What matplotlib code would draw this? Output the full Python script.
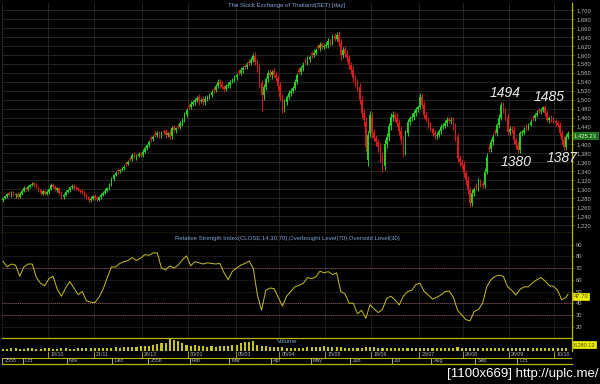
import numpy as np
import matplotlib
matplotlib.use("Agg")
import matplotlib.pyplot as plt
from matplotlib.ticker import FuncFormatter

# SET index, daily candles Sep 2012 - Oct 2013
opens = [1276, 1281, 1285, 1291, 1286, 1292, 1286, 1290, 1283, 1290,
         1297, 1303, 1300, 1306, 1310, 1313, 1310, 1305, 1298, 1290,
         1296, 1289, 1294, 1300, 1310, 1306, 1299, 1302, 1292, 1282,
         1288, 1294, 1298, 1304, 1308, 1303, 1303, 1298, 1297, 1294,
         1287, 1283, 1275, 1279, 1285, 1281, 1277, 1283, 1288, 1292,
         1297, 1302, 1310, 1322, 1332, 1343, 1340, 1343, 1347, 1358,
         1356, 1370, 1368, 1377, 1371, 1375, 1379, 1376, 1384, 1392,
         1399, 1414, 1411, 1424, 1421, 1426, 1419, 1431, 1429, 1421,
         1426, 1418, 1438, 1432, 1442, 1439, 1447, 1455, 1466, 1486,
         1484, 1490, 1495, 1500, 1505, 1496, 1501, 1494, 1502, 1506,
         1510, 1524, 1521, 1530, 1540, 1534, 1528, 1524, 1530, 1533,
         1540, 1544, 1550, 1563, 1560, 1566, 1576, 1573, 1585, 1582,
         1588, 1598, 1585, 1570, 1537, 1510, 1528, 1545, 1560, 1555,
         1563, 1556, 1548, 1530, 1506, 1480, 1495, 1506, 1515, 1520,
         1526, 1540, 1565, 1562, 1570, 1587, 1584, 1590, 1603, 1600,
         1605, 1619, 1616, 1623, 1618, 1620, 1622, 1631, 1626, 1641,
         1636, 1645, 1626, 1600, 1612, 1602, 1593, 1577, 1565, 1548,
         1538, 1528, 1499, 1470, 1450, 1365, 1425, 1462, 1425, 1415,
         1405, 1394, 1370, 1352, 1400, 1417, 1440, 1461, 1466, 1460,
         1448, 1430, 1410, 1385, 1425, 1450, 1458, 1462, 1470, 1478,
         1484, 1505, 1488, 1466, 1455, 1443, 1434, 1425, 1418, 1421,
         1430, 1439, 1442, 1448, 1456, 1452, 1455, 1440, 1417, 1370,
         1360, 1354, 1336, 1320, 1298, 1270, 1291, 1308, 1305, 1316,
         1312, 1310, 1339, 1393, 1390, 1405, 1428, 1425, 1443, 1460,
         1488, 1475, 1461, 1428, 1435, 1432, 1410, 1399, 1388, 1425,
         1428, 1441, 1438, 1444, 1461, 1458, 1466, 1476, 1474, 1477,
         1484, 1470, 1455, 1460, 1455, 1452, 1448, 1443, 1425, 1410,
         1394, 1417]

closes = [1280, 1284, 1290, 1286, 1292, 1287, 1289, 1283, 1290, 1297,
          1302, 1300, 1306, 1310, 1312, 1310, 1305, 1298, 1291, 1295,
          1290, 1294, 1300, 1309, 1306, 1300, 1302, 1292, 1283, 1288,
          1294, 1298, 1304, 1307, 1303, 1302, 1298, 1296, 1294, 1287,
          1282, 1276, 1279, 1284, 1280, 1278, 1283, 1288, 1292, 1297,
          1302, 1310, 1322, 1332, 1336, 1340, 1343, 1346, 1350, 1356,
          1361, 1368, 1376, 1372, 1375, 1378, 1376, 1384, 1392, 1399,
          1405, 1411, 1417, 1421, 1425, 1420, 1424, 1428, 1422, 1425,
          1417, 1437, 1432, 1436, 1439, 1447, 1455, 1466, 1477, 1483,
          1490, 1495, 1500, 1504, 1496, 1500, 1494, 1502, 1506, 1510,
          1516, 1521, 1530, 1539, 1534, 1528, 1524, 1530, 1533, 1540,
          1544, 1550, 1555, 1560, 1566, 1570, 1573, 1577, 1582, 1588,
          1597, 1585, 1570, 1537, 1510, 1528, 1545, 1559, 1555, 1562,
          1556, 1548, 1530, 1506, 1480, 1495, 1506, 1515, 1520, 1526,
          1540, 1555, 1562, 1570, 1578, 1584, 1590, 1595, 1600, 1605,
          1611, 1616, 1622, 1618, 1620, 1622, 1630, 1626, 1640, 1636,
          1644, 1626, 1600, 1611, 1602, 1593, 1577, 1565, 1548, 1538,
          1528, 1499, 1470, 1454, 1395, 1420, 1466, 1425, 1415, 1405,
          1394, 1370, 1350, 1400, 1417, 1440, 1461, 1466, 1460, 1448,
          1430, 1410, 1383, 1425, 1450, 1458, 1462, 1470, 1478, 1484,
          1505, 1488, 1466, 1455, 1443, 1434, 1425, 1420, 1421, 1430,
          1439, 1442, 1448, 1455, 1452, 1455, 1440, 1417, 1370, 1360,
          1354, 1336, 1320, 1298, 1269, 1291, 1300, 1305, 1316, 1312,
          1310, 1339, 1372, 1390, 1405, 1417, 1425, 1443, 1460, 1488,
          1475, 1461, 1428, 1435, 1432, 1410, 1399, 1388, 1425, 1428,
          1432, 1438, 1444, 1450, 1458, 1466, 1470, 1474, 1477, 1484,
          1470, 1455, 1460, 1455, 1452, 1448, 1443, 1425, 1410, 1394,
          1417, 1425.23]

# wick length above / below the body
wick_hi = [3, 4, 2, 5, 3, 4, 2, 3, 4, 3, 5, 3, 4, 2, 4, 3, 5, 3, 2, 4,
           3, 5, 2, 4, 3, 4, 3, 2, 5, 3, 4, 3, 2, 4, 3, 5, 2, 3, 4, 3,
           4, 2, 5, 3, 4, 3, 2, 4, 3, 5, 3, 4, 6, 3, 4, 5, 3, 4, 3, 5,
           4, 3, 5, 6, 3, 4, 3, 5, 4, 3, 5, 4, 3, 6, 4, 3, 5, 4, 6, 3,
           7, 4, 5, 3, 4, 5, 4, 6, 5, 4, 6, 5, 4, 5, 7, 4, 6, 5, 4, 5,
           6, 5, 4, 6, 5, 7, 4, 5, 6, 4, 5, 6, 4, 5, 6, 4, 5, 6, 5, 7,
           6, 8, 5, 9, 6, 7, 5, 6, 8, 5, 7, 6, 8, 9, 7, 6, 5, 7, 6, 5,
           6, 5, 7, 6, 5, 6, 7, 5, 6, 7, 5, 6, 7, 6, 5, 6, 7, 5, 6, 7,
           6, 8, 9, 6, 7, 8, 6, 7, 9, 8, 7, 9, 10, 8, 12, 9, 8, 10, 9, 7,
           8, 9, 10, 11, 8, 7, 9, 8, 7, 9, 8, 10, 9, 8, 7, 6, 8, 7, 6, 5,
           10, 7, 8, 6, 7, 6, 5, 7, 6, 5, 6, 5, 7, 6, 5, 6, 7, 8, 9, 7,
           8, 9, 7, 10, 8, 9, 6, 7, 8, 6, 7, 8, 9, 7, 6, 7, 6, 5, 7, 6,
           7, 6, 8, 7, 6, 8, 7, 9, 6, 5, 6, 5, 4, 6, 5, 4, 6, 5, 4, 2,
           5, 6, 4, 5, 6, 4, 5, 6, 7, 8, 6, 5]
wick_lo = [4, 3, 5, 2, 4, 3, 5, 4, 3, 4, 3, 5, 4, 3, 2, 4, 3, 5, 4, 3,
           4, 3, 5, 2, 4, 3, 6, 4, 5, 3, 4, 3, 5, 3, 4, 2, 3, 4, 5, 4,
           3, 5, 4, 3, 5, 4, 3, 5, 4, 3, 4, 3, 2, 4, 3, 5, 4, 3, 5, 4,
           3, 5, 4, 3, 6, 4, 5, 3, 4, 5, 4, 6, 3, 5, 4, 6, 4, 5, 7, 4,
           6, 5, 4, 7, 5, 4, 6, 5, 4, 6, 5, 4, 6, 5, 7, 4, 5, 6, 4, 5,
           5, 6, 4, 5, 7, 5, 6, 4, 5, 6, 4, 5, 6, 5, 4, 6, 5, 4, 6, 5,
           5, 7, 9, 8, 35, 10, 7, 6, 5, 8, 6, 7, 9, 8, 10, 7, 6, 5, 6, 5,
           5, 6, 5, 6, 7, 5, 6, 5, 7, 6, 5, 6, 7, 5, 6, 5, 7, 6, 5, 6,
           6, 7, 12, 8, 7, 9, 8, 7, 9, 10, 8, 9, 10, 12, 10, 13, 9, 10, 8, 9,
           10, 9, 12, 10, 8, 9, 7, 8, 9, 7, 10, 9, 12, 8, 7, 6, 5, 7, 6, 5,
           6, 7, 8, 6, 7, 5, 6, 7, 6, 5, 6, 5, 6, 7, 5, 6, 8, 9, 10, 8,
           9, 8, 10, 9, 9, 8, 7, 6, 8, 7, 8, 7, 6, 8, 7, 6, 5, 7, 6, 5,
           6, 7, 8, 6, 7, 8, 9, 8, 7, 6, 5, 6, 5, 4, 6, 5, 4, 5, 6, 5,
           6, 5, 7, 6, 5, 6, 5, 7, 8, 7, 6, 5]

# RSI(14), read every second session (last one is the final session)
rsi = [75.8, 71, 73.5, 72.5, 63, 71, 73.5, 73.5, 62, 57,
       55, 61, 63, 52, 46, 53, 58.5, 53, 47.3, 50,
       42, 41, 40.5, 45, 52, 62, 71, 71, 74, 75.5,
       76.5, 79, 76.5, 78.6, 81.5, 81, 83, 83, 70, 68.5,
       72, 70, 72.5, 77, 80.5, 72, 75.5, 74.6, 73.5, 74.5,
       74, 73.5, 74, 66, 60, 67.3, 70, 72.5, 74, 76,
       70, 47, 34, 51, 53, 52.5, 45, 37.5, 46, 50,
       54, 55.3, 57, 62, 61, 62.5, 67.3, 66, 67, 64.5,
       66, 50, 48, 40, 40, 31, 34, 27, 38.8, 35,
       32, 35, 44, 46, 43, 38.5, 46, 50, 51, 56,
       57, 50, 47, 43.5, 45, 47, 50, 50.5, 45, 34,
       30, 26, 25, 33, 34.5, 40, 54, 60, 63, 64,
       63, 54, 51, 47, 52, 54, 54, 57.5, 60, 62,
       59, 55, 54.5, 51, 43, 45, 47.7]

# volume, every second session
volume = [9000, 8500, 10000, 9500, 8800, 9200, 10500, 9800, 9000, 8700,
          9500, 10200, 9000, 8800, 9600, 10400, 9200, 8800, 9700, 10000,
          9400, 11000, 10200, 9600, 10800, 12000, 11500, 13000, 12500, 14000,
          15000, 14500, 16000, 18000, 20000, 17500, 22000, 26000, 30000, 28000,
          45000, 40000, 36000, 30000, 24000, 20000, 21000, 18000, 17000, 16000,
          17000, 16500, 18000, 17000, 19000, 21000, 24000, 28000, 32000, 34000,
          38000, 22000, 18000, 17000, 16000, 15000, 14000, 13000, 12500, 12000,
          11500, 11000, 12000, 13500, 14000, 13000, 14500, 17000, 15000, 14000,
          13000, 14000, 12000, 11000, 10500, 11000, 12000, 14000, 15000, 13000,
          12000, 11500, 12500, 11000, 10000, 10500, 11500, 12000, 11000, 10500,
          11000, 10000, 12000, 10500, 9500, 10000, 11000, 10500, 12500, 13000,
          12000, 11000, 10500, 11000, 10000, 9500, 10500, 11000, 10000, 12000,
          11000, 10500, 10000, 11500, 10000, 9500, 10500, 11000, 10000, 9800,
          10500, 10000, 9500, 10200, 9800, 9600]

# date axis: session index where each label starts
top_ticks = [22, 44, 67, 89, 112, 133, 155, 177, 200, 221, 243, 265]
top_labels = ['18/10', '21/11', '26/12', '30/01', '05/03', '05/04',
              '15/05', '18/06', '23/07', '26/08', '26/09', '10/10']
month_ticks = [0, 10, 31, 53, 70, 90, 109, 129, 148, 167, 187, 206, 227, 247]
month_labels = ['2555', 'Oct', 'Nov', 'Dec', '2556', 'Feb', 'Mar', 'Apr',
                'May', 'Jun', 'Jul', 'Aug', 'Sep', 'Oct']

# marked swing points: text, session, price position
marks = [('1494', 241, 1515), ('1485', 262, 1506),
         ('1380', 246, 1361), ('1387', 268, 1370)]

plt.rcParams['font.family'] = ['Liberation Sans', 'DejaVu Sans']

YEL = '#b8b400'
GRID = '#2a2a2a'
LBL = '#b4b4b4'
BLUE = '#7fa6d8'

fig = plt.figure(figsize=(6, 3.84), dpi=100, facecolor='black')
L, W = 2 / 600, 570 / 600
ax_p = fig.add_axes([L, 1 - 233 / 384, W, 230 / 384])
ax_r = fig.add_axes([L, 1 - 338 / 384, W, 105 / 384])
ax_v = fig.add_axes([L, 1 - 351 / 384, W, 13 / 384])
ax_d = fig.add_axes([L, 1 - 364 / 384, W, 13 / 384])

n = len(closes)
x = np.arange(n)
xlim = (-0.5, 272.9)
grid_x = [t - 0.5 for t in [0] + top_ticks]

for ax in (ax_p, ax_r, ax_v, ax_d):
    ax.set_facecolor('black')
    ax.set_xlim(*xlim)
    for s in ax.spines.values():
        s.set_visible(False)
    ax.spines['right'].set_visible(True)
    ax.spines['right'].set_color(YEL)
    ax.spines['right'].set_linewidth(0.9)
    ax.tick_params(axis='x', length=0, labelbottom=False)
    ax.yaxis.tick_right()
    ax.tick_params(axis='y', labelsize=4.2, labelcolor=LBL, color='#777777',
                   length=1.5, width=0.5, pad=1.5)

# ---- price panel
o = np.array(opens, dtype=float)
c = np.array(closes, dtype=float)
col = np.where(c >= o, '#22d022', '#e01818')
hi = np.maximum(o, c) + np.array(wick_hi)
lo = np.minimum(o, c) - np.array(wick_lo)
ax_p.vlines(x, lo, hi, colors=col, linewidth=0.7, zorder=3)
ax_p.bar(x, np.maximum(np.abs(c - o), 1.2), bottom=np.minimum(o, c),
         width=0.8, color=col, linewidth=0, zorder=3)
ax_p.set_ylim(1202.3, 1715.6)
ax_p.set_yticks(range(1220, 1701, 20))
# the label hidden behind the last-price box is left blank
ax_p.yaxis.set_major_formatter(
    FuncFormatter(lambda v, p: '' if abs(v - c[-1]) < 8 else f'{v:,.0f}'))
ax_p.set_xticks(grid_x)
ax_p.grid(True, color=GRID, linewidth=0.6)
ax_p.spines['bottom'].set_visible(True)
ax_p.spines['bottom'].set_color(YEL)
ax_p.spines['bottom'].set_linewidth(0.9)
ax_p.text(0.5, 0.987, 'The Stock Exchange of Thailand(SET) [day]',
          transform=ax_p.transAxes, ha='center', va='center',
          color=BLUE, fontsize=4.3)
for txt, xi, yv in marks:
    ax_p.text(xi, yv, txt, ha='center', va='center', color='#ececec',
              fontsize=10, style='italic', zorder=5)
ax_p.text(1.003, c[-1], f'{c[-1]:,.2f}', transform=ax_p.get_yaxis_transform(),
          ha='left', va='top', fontsize=4.2, color='#d8ffd8', zorder=6,
          bbox=dict(facecolor='#1c6a1c', edgecolor='#2c9a2c', pad=0.7, lw=0.5))

# ---- RSI panel
rsi_x = list(range(0, n - 1, 2)) + [n - 1]
ax_r.plot(rsi_x, rsi, color='#c8c020', linewidth=0.7, zorder=3)
for lvl in (70, 40, 30):
    ax_r.axhline(lvl, color='#8c4a4a', linewidth=0.7, linestyle=(0, (1, 1)), zorder=2)
ax_r.set_ylim(10.3, 100)
ax_r.set_yticks(range(20, 91, 10))
ax_r.set_xticks(grid_x)
ax_r.grid(True, color='#1e1e1e', linewidth=0.6)
ax_r.text(0.5, 0.952,
          'Relative Strength Index(CLOSE,14,30,70),Overbought Level(70),Oversold Level(30)',
          transform=ax_r.transAxes, ha='center', va='center', color=BLUE, fontsize=4.3)
ax_r.text(1.003, rsi[-1], f'{rsi[-1]:.2f}', transform=ax_r.get_yaxis_transform(),
          ha='left', va='top', fontsize=4.2, color='#404000', zorder=6,
          bbox=dict(facecolor='#f0f000', edgecolor='#f0f000', pad=0.7, lw=0.5))

# ---- volume panel
vol_x = list(range(0, n - 1, 2))
ax_v.bar(vol_x, volume, width=1.0, color='#c8c41e', linewidth=0)
ax_v.set_ylim(0, 48000)
ax_v.set_yticks([])
for side in ('top', 'bottom'):
    ax_v.spines[side].set_visible(True)
    ax_v.spines[side].set_color(YEL)
    ax_v.spines[side].set_linewidth(0.9)
ax_v.text(0.5, 0.7, 'Volume', transform=ax_v.transAxes, ha='center',
          va='center', color=BLUE, fontsize=4.5)
ax_v.text(1.003, 0.5, '6,280.13', transform=ax_v.transAxes, ha='left',
          va='center', fontsize=4.0, color='#404000',
          bbox=dict(facecolor='#f0f000', edgecolor='#f0f000', pad=0.5, lw=0.5))

# ---- date rows
ax_d.set_ylim(0, 13)
ax_d.set_yticks([])
ax_d.spines['right'].set_visible(False)
ax_d.spines['bottom'].set_visible(True)
ax_d.spines['bottom'].set_color(YEL)
ax_d.spines['bottom'].set_linewidth(0.9)
ax_d.axhline(6.5, color=YEL, linewidth=0.8)
ax_d.vlines([t - 0.5 for t in top_ticks], 6.5, 13, colors=YEL, linewidth=0.6)
for t, lab in zip(top_ticks, top_labels):
    ax_d.text(t + 0.6, 9.8, lab, ha='left', va='center', color=LBL, fontsize=3.8)
ax_d.vlines([t - 0.5 for t in month_ticks], 0, 6.5, colors='#c8c8a0', linewidth=0.6)
for t, lab in zip(month_ticks, month_labels):
    ax_d.text(t + 0.6, 3.3, lab, ha='left', va='center', color=LBL, fontsize=3.8)

fig.text(0.997, 1 - 374 / 384, '[1100x669] http://uplc.me/', ha='right',
         va='center', color='white', fontsize=9.5)

fig.savefig('out.png', dpi=100, facecolor='black')
